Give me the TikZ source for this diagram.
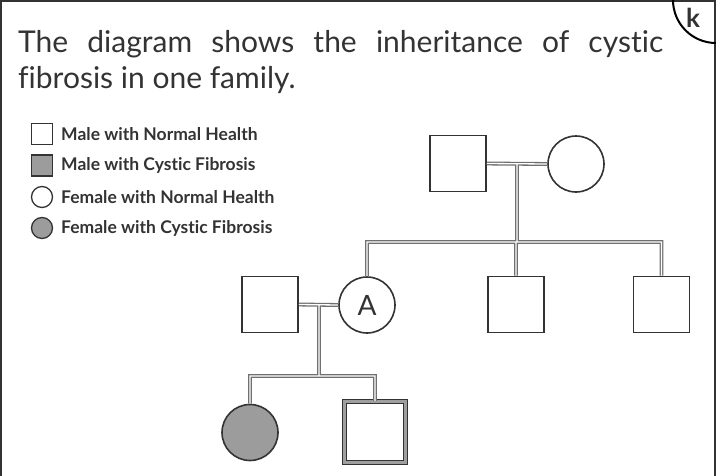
\documentclass[tikz,border=0pt]{standalone}
\usepackage{fontspec}
\setmainfont{Lato}[Ligatures=NoCommon]
\definecolor{ink}{HTML}{333333}
\definecolor{affected}{HTML}{9C9C9C}
\definecolor{pipe}{HTML}{707070}
\begin{document}
\begin{tikzpicture}[x=1pt,y=-1pt,
  male/.style={draw=ink, line width=1.6pt, fill=white, minimum size=56pt, inner sep=0pt, shape=rectangle},
  female/.style={draw=ink, line width=1.6pt, fill=white, minimum size=56pt, inner sep=0pt, shape=circle},
  keymale/.style={draw=ink, line width=1.3pt, minimum size=21pt, inner sep=0pt, shape=rectangle},
  keyfemale/.style={draw=ink, line width=1.3pt, minimum size=21pt, inner sep=0pt, shape=circle},
  keytext/.style={anchor=west, inner sep=0pt, text=ink, font=\bfseries\fontsize{17.5}{19}\selectfont},
  link/.style={draw=pipe, line width=1.3pt, double=white, double distance=1.3pt}]
\useasboundingbox (0,0) rectangle (716,475);

% page frame with the corner tab
\draw[ink, line width=2pt] (1.2,476) -- (1.2,1.2) -- (714.5,1.2) -- (714.5,476);
\draw[black, line width=2pt] (673,0) arc[start angle=180, end angle=90, radius=43];
\node[font=\bfseries\fontsize{26}{27}\selectfont, text=ink] (tab) at (693,18) {k};

% question text
\node[anchor=base west, inner sep=0pt, text width=645pt, align=justify, text=ink,
      font=\fontsize{30}{36}\selectfont] (question) at (18,52)
  {The diagram shows the inheritance of cystic\linebreak fibrosis in one family.};

% key
\node[keymale] (k1) at (42,134) {};
\node[keymale, fill=affected] (k2) at (42,165.5) {};
\node[keyfemale] (k3) at (42,197) {};
\node[keyfemale, fill=affected] (k4) at (42,228) {};
\node[keytext] (t1) at (61,134) {Male with Normal Health};
\node[keytext] (t2) at (61,165.5) {Male with Cystic Fibrosis};
\node[keytext] (t3) at (61,197) {Female with Normal Health};
\node[keytext] (t4) at (61,228) {Female with Cystic Fibrosis};

% generation I
\node[male] (gf) at (458,163.5) {};
\node[female] (gm) at (576,164) {};
% generation II
\node[male] (hus) at (270,304.5) {};
\node[female, font=\fontsize{28}{29}\selectfont, text=ink] (A) at (367,305) {A};
\node[male] (u1) at (516,304.5) {};
\node[male] (u2) at (661.5,304.5) {};
% generation III
\node[female, fill=affected] (dau) at (250,432.5) {};
\node[draw=ink, line width=1.5pt, double=gray!75, double distance=2.6pt,
      minimum size=61pt, inner sep=0pt, fill=white] (son) at (375,432) {};

% junction points on the partnership and sibling lines
\coordinate (j1) at (517,164);
\coordinate (b1) at (517,242);
\coordinate (j2) at (319,304.5);
\coordinate (b2) at (319,376);

% family lines
\draw[link] (gf.east) -- (gm.west)
            (j1) -- (b1)
            (A.north) |- (b1) -| (u2.north)
            (u1.north) -- (u1.north |- b1);
\draw[link] (hus.east) -- (A.west)
            (j2) -- (b2)
            (dau.north) |- (b2) -| (son.north);
\end{tikzpicture}
\end{document}
